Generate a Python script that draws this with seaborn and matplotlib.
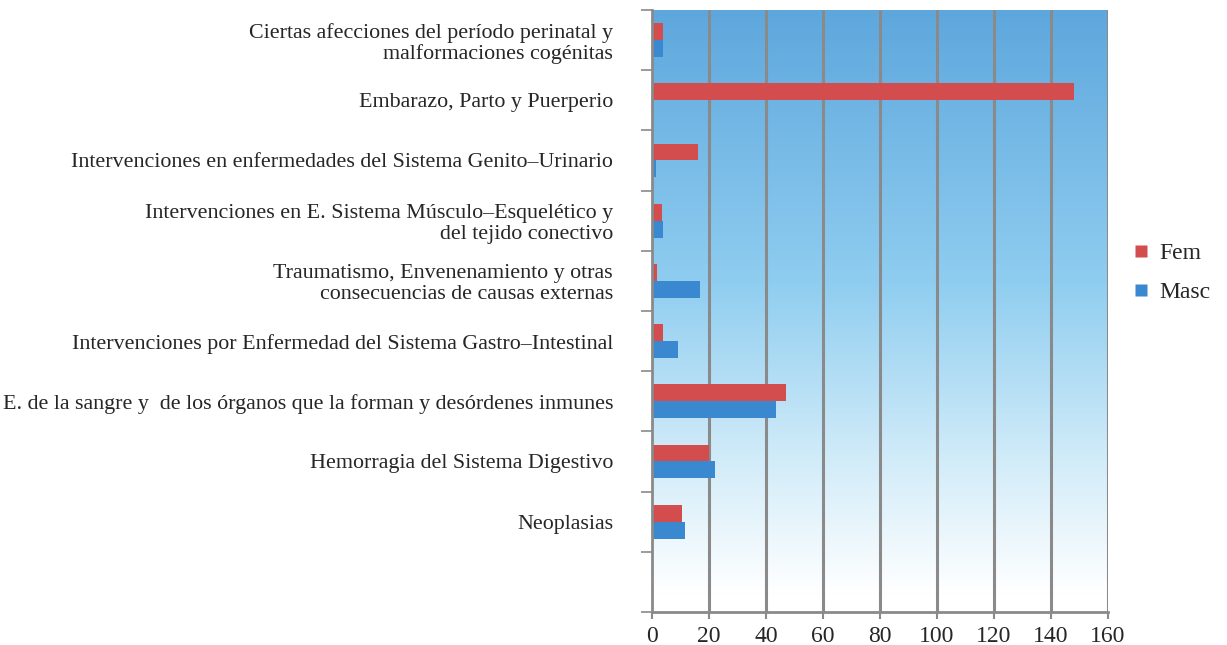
import numpy as np
import pandas as pd
import matplotlib
matplotlib.use("Agg")
import matplotlib.pyplot as plt
from matplotlib.colors import LinearSegmentedColormap
from matplotlib.lines import Line2D
import seaborn as sns

categories = [
    "Ciertas afecciones del período perinatal y\nmalformaciones cogénitas",
    "Embarazo, Parto y Puerperio",
    "Intervenciones en enfermedades del Sistema Genito–Urinario",
    "Intervenciones en E. Sistema Músculo–Esquelético y\ndel tejido conectivo",
    "Traumatismo, Envenenamiento y otras\nconsecuencias de causas externas",
    "Intervenciones por Enfermedad del Sistema Gastro–Intestinal",
    "E. de la sangre y  de los órganos que la forman y desórdenes inmunes",
    "Hemorragia del Sistema Digestivo",
    "Neoplasias",
]
fem = [4, 148, 16, 3.6, 1.7, 3.7, 47, 20, 10.7]
masc = [4, 0, 1.5, 4, 17, 9, 43.5, 22, 11.7]
series = ["Fem", "Masc"]
xticks = [0, 20, 40, 60, 80, 100, 120, 140, 160]

df = pd.DataFrame({
    "cat": categories * 2,
    "val": fem + masc,
    "sexo": ["Fem"] * len(categories) + ["Masc"] * len(categories),
})

sns.set_style("white")
plt.rcParams["font.family"] = ["Liberation Serif", "DejaVu Serif"]

fig = plt.figure(figsize=(12.27, 6.45), dpi=100)
ax = fig.add_axes([652 / 1227, 1 - 612 / 645, (1108 - 652) / 1227, 602 / 645])

# gradient background
cmap = LinearSegmentedColormap.from_list(
    "bg",
    [(0.0, "#5ea7dd"), (0.45, "#8fcdf0"), (0.75, "#d2ecf9"), (0.97, "#ffffff"), (1.0, "#ffffff")],
)
grad = np.linspace(0, 1, 256).reshape(-1, 1)
ax.imshow(grad, cmap=cmap, aspect="auto", extent=[0, 160, 9.5, -0.5],
          zorder=0, interpolation="bicubic")

palette = {"Fem": "#d34c4e", "Masc": "#3a88cf"}
sns.barplot(data=df, x="val", y="cat", hue="sexo", hue_order=series,
            order=categories, palette=palette, width=0.56, orient="h",
            saturation=1, ax=ax, zorder=3, legend=False, linewidth=0)

ax.set_xlim(0, 160)
ax.set_ylim(9.5, -0.5)
ax.set_xticks(xticks)
ax.set_xticklabels([str(t) for t in xticks], fontsize=17)
ax.set_yticks(range(len(categories)))
ax.set_yticklabels(categories, fontsize=15.8, ha="right", linespacing=1.12)
ax.set_yticks(np.arange(-0.5, 10, 1.0), minor=True)
ax.tick_params(axis="y", which="major", length=0, pad=28)
ax.tick_params(axis="y", which="minor", length=8, width=1.2, color="#8a8a8a", left=True)
ax.tick_params(axis="x", which="major", length=5, width=1.5, color="#8a8a8a", bottom=True, pad=5)
ax.set_xlabel("")
ax.set_ylabel("")

for xv in xticks[1:]:
    ax.axvline(xv, color="#8a8a8a", lw=2.2, zorder=2)

for s in ["top", "right"]:
    ax.spines[s].set_visible(False)
ax.spines["left"].set_color("#8a8a8a")
ax.spines["left"].set_linewidth(2)
ax.spines["bottom"].set_color("#8a8a8a")
ax.spines["bottom"].set_linewidth(2)
ax.spines["left"].set_zorder(4)
ax.spines["bottom"].set_zorder(4)

handles = [Line2D([], [], marker="s", color="none", markerfacecolor=palette[s],
                  markeredgecolor="none", markersize=8.5) for s in series]
fig.legend(handles, series, loc="center left", bbox_to_anchor=(1106 / 1227, 1 - 273 / 645),
           frameon=False, fontsize=17, handletextpad=0.15, labelspacing=0.75, handlelength=1.2)

fig.savefig("out.png", dpi=100)
